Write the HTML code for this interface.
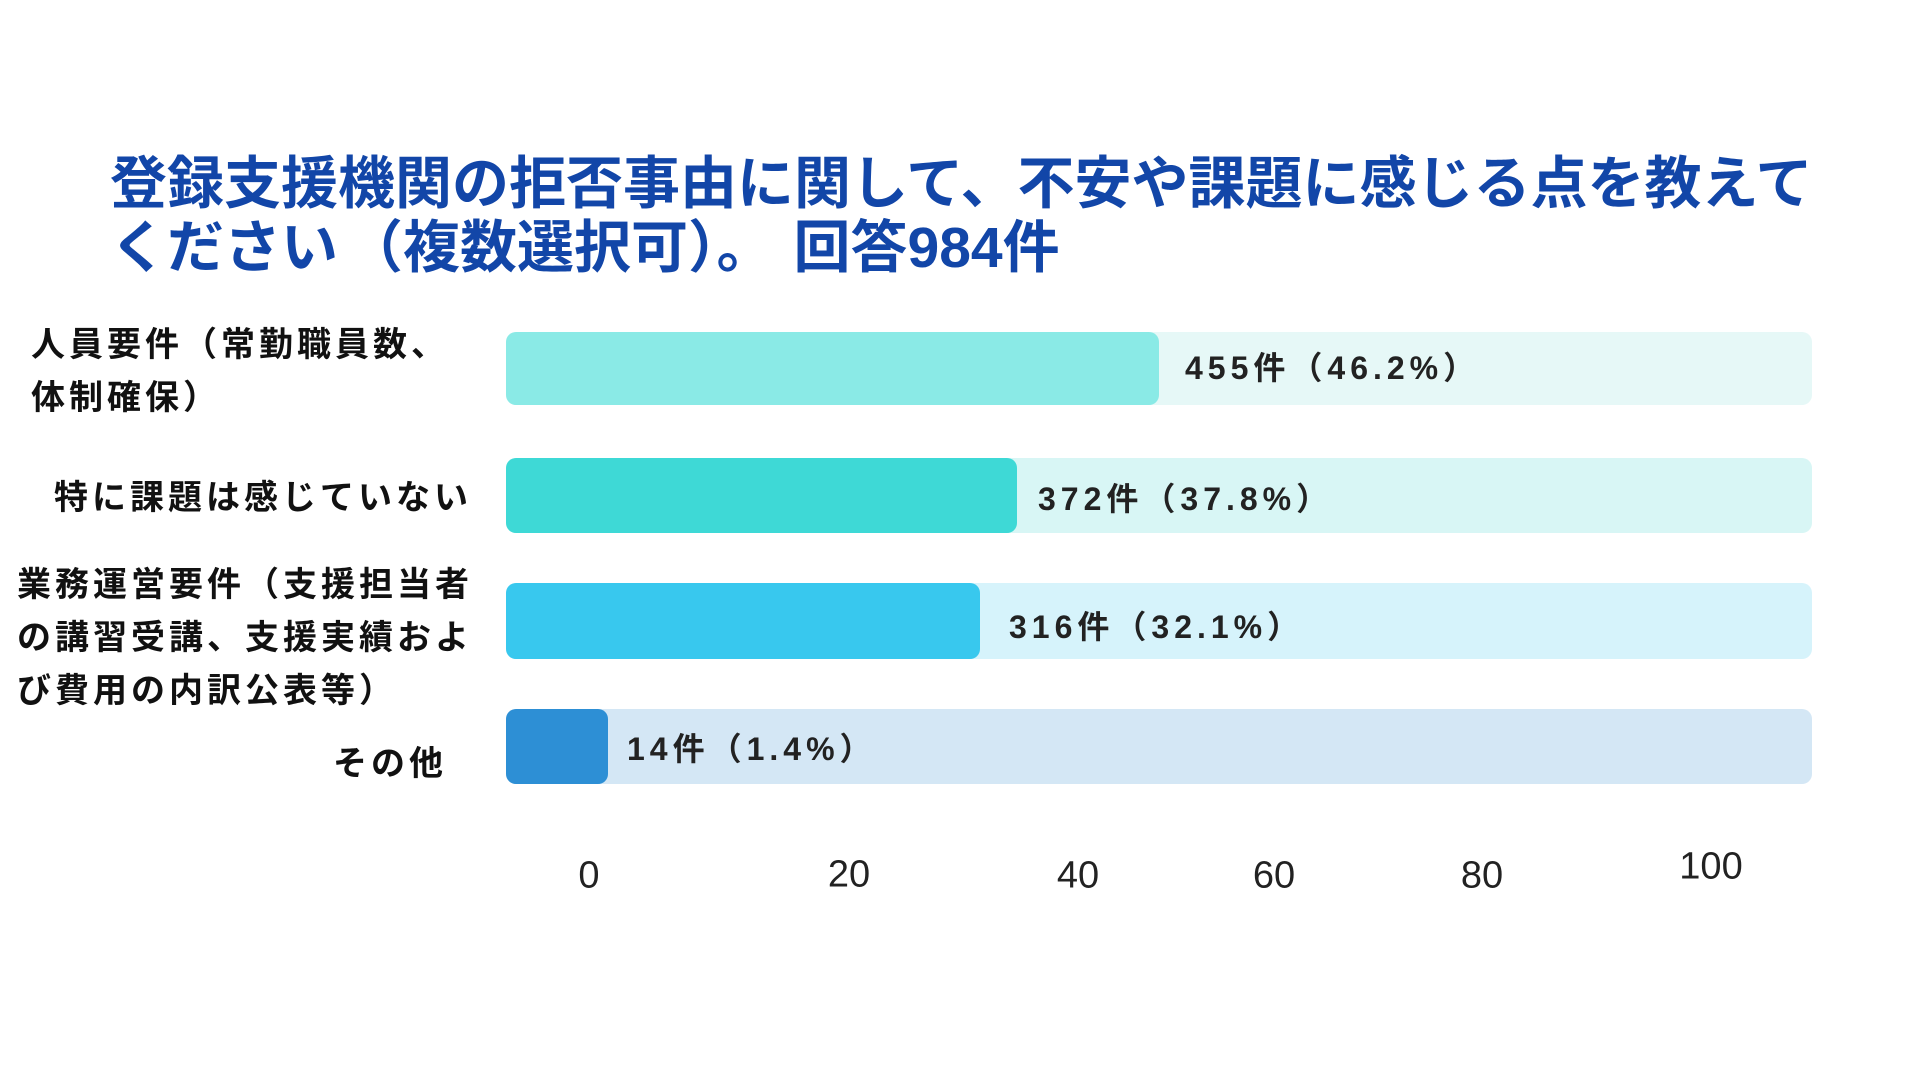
<!DOCTYPE html>
<html><head><meta charset="utf-8"><style>
body{margin:0;width:1920px;height:1080px;background:#fff;position:relative;overflow:hidden;font-family:"Liberation Sans","Noto Sans CJK JP",sans-serif;}
.t{position:absolute;left:110px;color:#1246a8;font-weight:bold;font-size:57px;line-height:64px;white-space:nowrap;letter-spacing:0px}
.bg,.fg{position:absolute;border-radius:10px}
.v{position:absolute;font-weight:bold;font-size:32px;color:#222;letter-spacing:5px;white-space:nowrap;transform:translateY(-50%)}
.c{position:absolute;font-weight:bold;font-size:34px;color:#111;line-height:53px;white-space:nowrap;letter-spacing:4px;transform:translateY(-24px)}
.k{position:absolute;font-size:38px;color:#222;transform:translate(-50%,-50%)}
</style></head><body>
<div class="t" style="top:152px">登録支援機関の拒否事由に関して、不安や課題に感じる点を教えて</div>
<div class="t" style="top:216px">ください<span style="margin-left:8px">（複数選択可）。</span><span style="margin-left:20px">回答984件</span></div>

<div class="bg" style="left:506px;width:1306px;top:332px;height:73px;background:#e6f8f7"></div>
<div class="fg" style="left:506px;width:653px;top:332px;height:73px;background:#8aeae6"></div>
<div class="bg" style="left:506px;width:1306px;top:458px;height:75px;background:#d8f6f5"></div>
<div class="fg" style="left:506px;width:511px;top:458px;height:75px;background:#3ed9d6"></div>
<div class="bg" style="left:506px;width:1306px;top:583px;height:76px;background:#d6f3fb"></div>
<div class="fg" style="left:506px;width:474px;top:583px;height:76px;background:#38c8ee"></div>
<div class="bg" style="left:506px;width:1306px;top:709px;height:75px;background:#d4e7f5"></div>
<div class="fg" style="left:506px;width:102px;top:709px;height:75px;background:#2d8fd5"></div>

<div class="v" style="left:1185px;top:366px">455件（46.2%）</div>
<div class="v" style="left:1038px;top:497px">372件（37.8%）</div>
<div class="v" style="left:1009px;top:625px">316件（32.1%）</div>
<div class="v" style="left:627px;top:747px">14件（1.4%）</div>

<div class="c" style="left:31px;top:343px">人員要件（常勤職員数、<br>体制確保）</div>
<div class="c" style="left:54px;top:496px">特に課題は感じていない</div>
<div class="c" style="left:17px;top:583px">業務運営要件（支援担当者<br>の講習受講、支援実績およ<br>び費用の内訳公表等）</div>
<div class="c" style="left:333px;top:762px">その他</div>

<div class="k" style="left:589px;top:876px">0</div>
<div class="k" style="left:849px;top:875px">20</div>
<div class="k" style="left:1078px;top:876px">40</div>
<div class="k" style="left:1274px;top:876px">60</div>
<div class="k" style="left:1482px;top:876px">80</div>
<div class="k" style="left:1711px;top:867px">100</div>
</body></html>
